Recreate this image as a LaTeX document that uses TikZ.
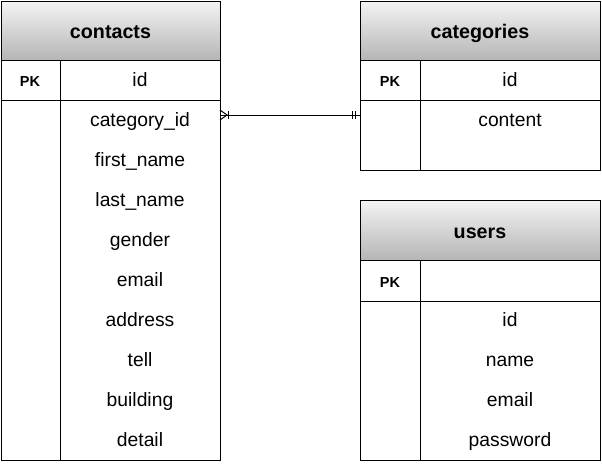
\documentclass[tikz,border=0pt]{standalone}
\usepackage{fontspec}
\setmainfont{Liberation Sans}
\definecolor{hdtop}{HTML}{F4F4F4}
\definecolor{hdbot}{HTML}{B5B5B5}
\begin{document}
\begin{tikzpicture}[x=1pt,y=-1pt,
  cell/.style={draw, line width=1pt, anchor=north west, inner sep=0pt, outer sep=0pt},
  hdr/.style={cell, top color=hdtop, bottom color=hdbot},
  htx/.style={inner sep=0pt, anchor=base, font=\bfseries\fontsize{19.7}{20}\selectfont},
  pktx/.style={inner sep=0pt, anchor=base, font=\bfseries\fontsize{14.5}{15}\selectfont},
  fld/.style={inner sep=0pt, anchor=base, font=\fontsize{19.3}{20}\selectfont},
  conn/.style={line width=1pt}]
\useasboundingbox (0,0) rectangle (602,464);
% contacts
\node[hdr, minimum width=219pt, minimum height=59pt] (ch) at (1,1) {};
\node[cell, minimum width=59pt, minimum height=40pt] (cpk) at (1,60) {};
\node[cell, minimum width=160pt, minimum height=40pt] (cidc) at (60,60) {};
\node[cell, minimum width=59pt, minimum height=360pt] (cbk) at (1,100) {};
\node[cell, minimum width=160pt, minimum height=360pt] (cbody) at (60,100) {};
\node[htx] (cht) at (110.5,38) {contacts};
\node[pktx] (cpkt) at (30,86.7) {PK};
\node[fld] (cid) at (140,86.7) {id};
\node[fld] (c1) at (140,126.7) {category\_id};
\node[fld] (c2) at (140,166.7) {first\_name};
\node[fld] (c3) at (140,206.7) {last\_name};
\node[fld] (c4) at (140,246.7) {gender};
\node[fld] (c5) at (140,286.7) {email};
\node[fld] (c6) at (140,326.7) {address};
\node[fld] (c7) at (140,366.7) {tell};
\node[fld] (c8) at (140,406.7) {building};
\node[fld] (c9) at (140,446.7) {detail};
% categories
\node[hdr, minimum width=240pt, minimum height=59pt] (gh) at (360,1) {};
\node[cell, minimum width=60pt, minimum height=40pt] (gpk) at (360,60) {};
\node[cell, minimum width=180pt, minimum height=40pt] (gidc) at (420,60) {};
\node[cell, minimum width=60pt, minimum height=70pt] (gbk) at (360,100) {};
\node[cell, minimum width=180pt, minimum height=70pt] (gbody) at (420,100) {};
\node[htx] (ght) at (480,38) {categories};
\node[pktx] (gpkt) at (390,86.7) {PK};
\node[fld] (gid) at (510,86.7) {id};
\node[fld] (g1) at (510,126.7) {content};
% users
\node[hdr, minimum width=240pt, minimum height=60pt] (uh) at (360,200) {};
\node[cell, minimum width=60pt, minimum height=41pt] (upk) at (360,260) {};
\node[cell, minimum width=180pt, minimum height=41pt] (uidc) at (420,260) {};
\node[cell, minimum width=60pt, minimum height=159pt] (ubk) at (360,301) {};
\node[cell, minimum width=180pt, minimum height=159pt] (ubody) at (420,301) {};
\node[htx] (uht) at (480,238) {users};
\node[pktx] (upkt) at (390,287) {PK};
\node[fld] (u1) at (510,326.7) {id};
\node[fld] (u2) at (510,366.7) {name};
\node[fld] (u3) at (510,406.7) {email};
\node[fld] (u4) at (510,446.7) {password};
% connector
\coordinate (pa) at ([yshift=-15pt]cbody.north east);
\coordinate (pb) at ([yshift=-15pt]gbk.north west);
\draw[conn] (pa) -- (pb);
% one-or-many at contacts end
\draw[conn] ([yshift=5pt]pa) -- ([xshift=7pt]pa) -- ([yshift=-5pt]pa);
\draw[conn] ([xshift=8pt,yshift=4pt]pa) -- ([xshift=8pt,yshift=-4pt]pa);
% mandatory one at categories end
\draw[conn] ([xshift=-8pt,yshift=4pt]pb) -- ([xshift=-8pt,yshift=-4pt]pb);
\draw[conn] ([xshift=-5pt,yshift=4pt]pb) -- ([xshift=-5pt,yshift=-4pt]pb);
\end{tikzpicture}
\end{document}
